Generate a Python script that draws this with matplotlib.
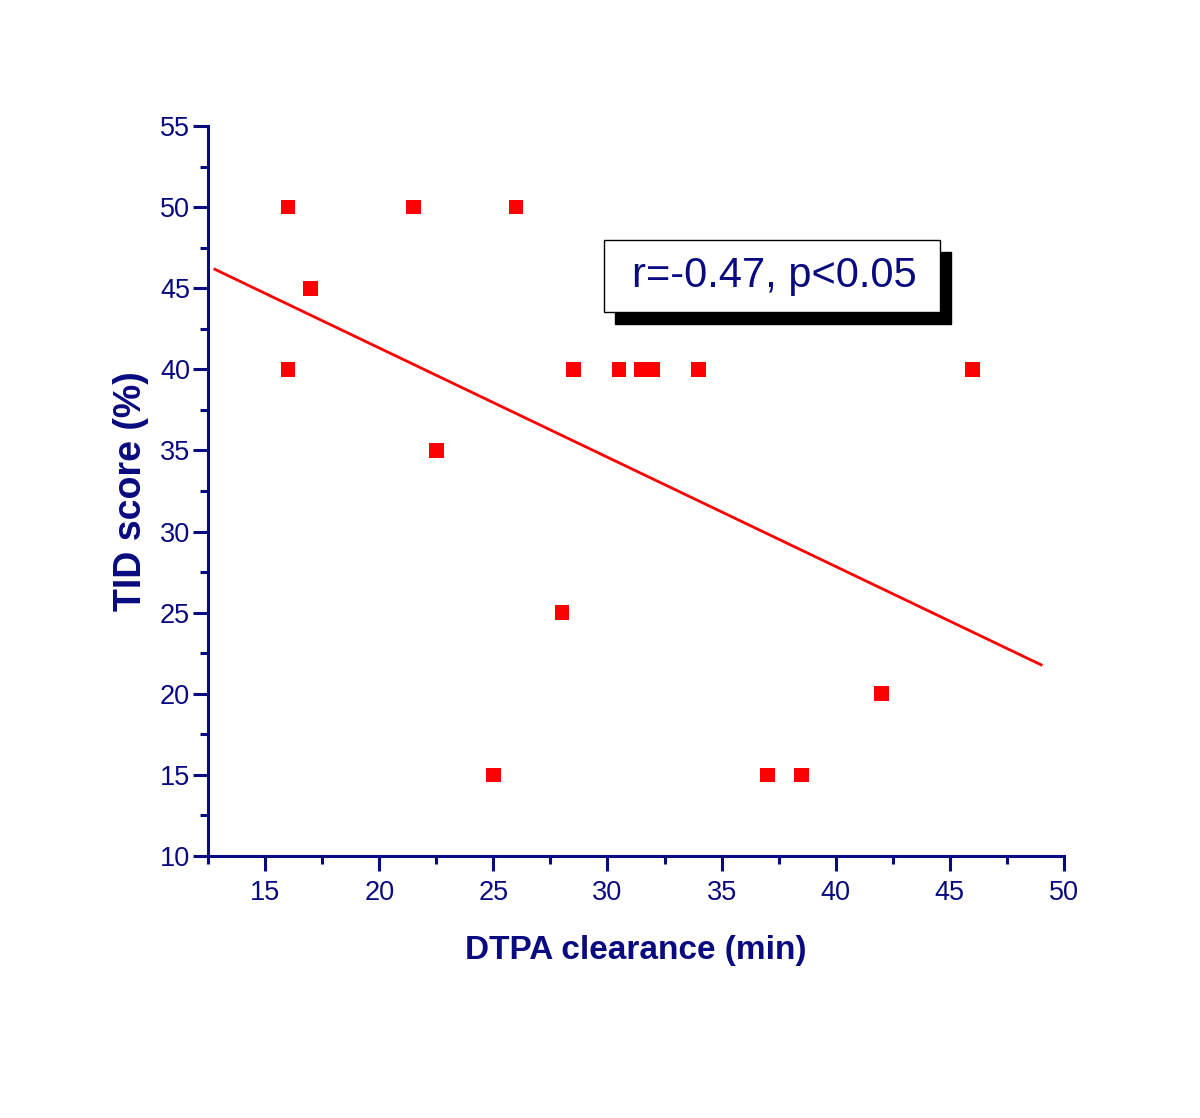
import numpy as np
import matplotlib
matplotlib.use("Agg")
import matplotlib.pyplot as plt
from matplotlib.patches import Rectangle
from matplotlib.ticker import MultipleLocator

plt.rcParams['font.family'] = ['Liberation Sans', 'DejaVu Sans']

# Data
dtpa = [16, 21.5, 26, 17, 16, 28.5, 30.5, 31.5, 32, 34, 46, 22.5, 28, 42, 25, 37, 38.5]
tid = [50, 50, 50, 45, 40, 40, 40, 40, 40, 40, 40, 35, 25, 20, 15, 15, 15]
fit_range = [12.8, 49.0]
annotation = "r=-0.47, p<0.05"
xlabel = "DTPA clearance (min)"
ylabel = "TID score (%)"
x_ticks = [15, 20, 25, 30, 35, 40, 45, 50]
y_ticks = [10, 15, 20, 25, 30, 35, 40, 45, 50, 55]

navy = '#0a0a80'

fig = plt.figure(figsize=(12, 11.18), dpi=100)
ax = fig.add_axes([208/1200, 262/1118, 856/1200, 730/1118])

ax.scatter(dtpa, tid, marker='s', s=110, color='#ff0000', edgecolors='none', zorder=3)

slope, intercept = np.polyfit(dtpa, tid, 1)
fx = np.array(fit_range)
ax.plot(fx, slope * fx + intercept, color='#ff0000', lw=2.0, zorder=2)

ax.set_xlim(12.5, 50)
ax.set_ylim(10, 55)
ax.set_xticks(x_ticks)
ax.set_yticks(y_ticks)
ax.xaxis.set_minor_locator(MultipleLocator(2.5))
ax.yaxis.set_minor_locator(MultipleLocator(2.5))

for s in ['top', 'right']:
    ax.spines[s].set_visible(False)
for s in ['left', 'bottom']:
    ax.spines[s].set_color(navy)
    ax.spines[s].set_linewidth(2.2)

ax.tick_params(which='major', direction='out', length=11, width=2.2, color=navy,
               labelcolor=navy, labelsize=19.5)
ax.tick_params(axis='x', which='major', pad=6)
ax.tick_params(axis='y', which='major', pad=2)
ax.tick_params(which='minor', direction='out', length=6, width=2.2, color=navy)

ax.set_xlabel(xlabel, fontsize=24, fontweight='bold', color=navy, labelpad=21)
ax.set_ylabel(ylabel, fontsize=27, fontweight='bold', color=navy, labelpad=8)

# annotation box with shadow
bx0, bx1 = (604 - 208) / 856, (940 - 208) / 856
by0, by1 = (856 - 312) / 730, (856 - 240) / 730
dx, dy = 11 / 856, -12 / 730
ax.add_patch(Rectangle((bx0 + dx, by0 + dy), bx1 - bx0, by1 - by0, transform=ax.transAxes,
                       facecolor='black', edgecolor='black', zorder=4, clip_on=False))
ax.add_patch(Rectangle((bx0, by0), bx1 - bx0, by1 - by0, transform=ax.transAxes,
                       facecolor='white', edgecolor='black', lw=1.0, zorder=5, clip_on=False))
ax.text((bx0 + bx1) / 2 + 0.003, (by0 + by1) / 2, annotation, transform=ax.transAxes,
        ha='center', va='center', fontsize=30, color=navy, zorder=6)

fig.savefig('out.png', dpi=100, facecolor='white')
